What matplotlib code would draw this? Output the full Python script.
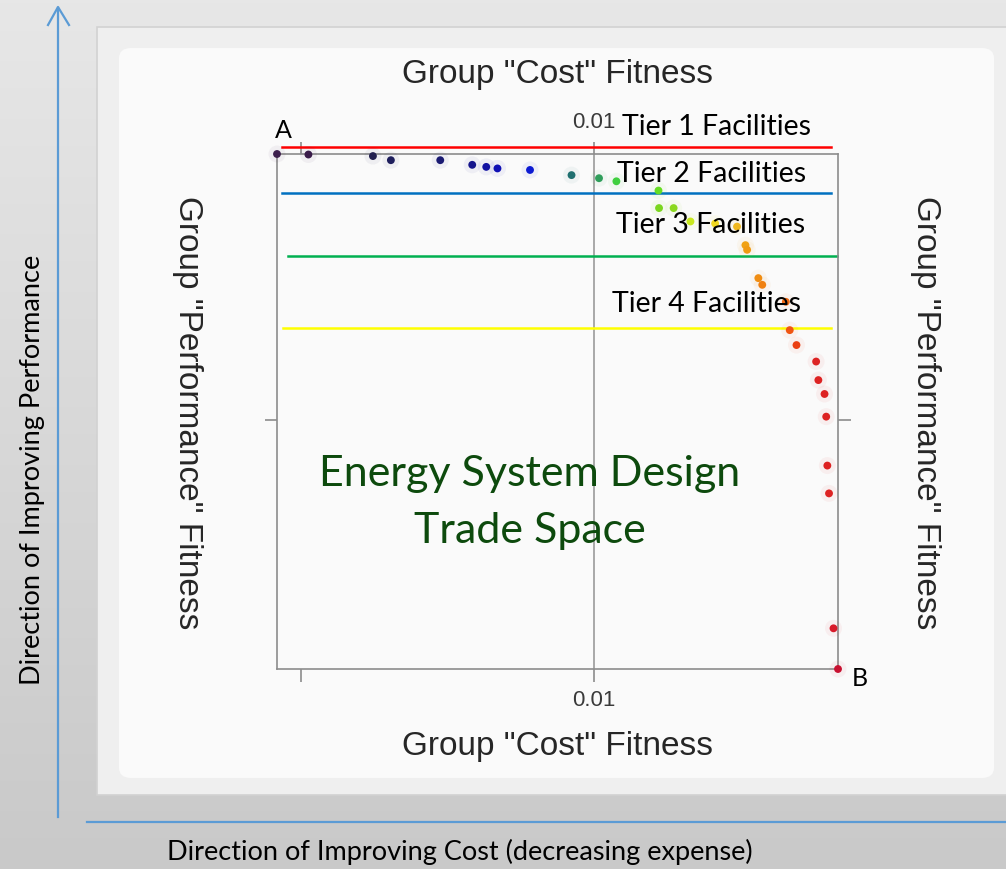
import numpy as np
import matplotlib.pyplot as plt
from matplotlib.patches import Rectangle, FancyBboxPatch
from matplotlib.lines import Line2D
from matplotlib.colors import LinearSegmentedColormap

# normalised fitness values (0..1 over the plotted range)
cost_fit = [0.000, 0.056, 0.171, 0.203, 0.291, 0.348, 0.373, 0.393, 0.451, 0.525,
            0.574, 0.605, 0.680, 0.681, 0.707, 0.737, 0.781, 0.820, 0.835, 0.838,
            0.858, 0.865, 0.907, 0.914, 0.926, 0.961, 0.965, 0.976, 0.979, 0.981,
            0.984, 0.992, 1.000]
perf_fit = [1.000, 0.999, 0.996, 0.988, 0.988, 0.979, 0.975, 0.972, 0.969, 0.959,
            0.953, 0.947, 0.929, 0.895, 0.895, 0.869, 0.865, 0.859, 0.823, 0.814,
            0.759, 0.746, 0.713, 0.658, 0.629, 0.597, 0.561, 0.534, 0.490, 0.395,
            0.341, 0.079, 0.000]
point_colors = ['#3d1f4d', '#3a1c4a', '#22204f', '#1e1e5c', '#1a1a72', '#15158c',
                '#1212a2', '#1010b4', '#0c1ad2', '#1f6f6f', '#2e9e5a', '#3fcf3f',
                '#66dd22', '#7ad61e', '#8ad81e', '#c8e81e', '#f0d820', '#f0b820',
                '#f0a214', '#f09a12', '#f08c10', '#f08010', '#f06a12', '#f05512',
                '#ea4014', '#dd2222', '#dd2222', '#dd2222', '#dd2222', '#dd2222',
                '#dd2222', '#d81a2a', '#c81030']

tier_labels = ['Tier 1 Facilities', 'Tier 2 Facilities', 'Tier 3 Facilities', 'Tier 4 Facilities']
tier_levels = [1.014, 0.924, 0.801, 0.662]
tier_colors = ['#ff0000', '#0070c0', '#00b050', '#ffff00']

x_ticks = [0.043, 0.565]
x_ticklabels = ['', '0.01']
y_ticks = [0.4835]

W, H = 1006, 869


def px(x, y):
    return x / W, 1 - y / H


fig = plt.figure(figsize=(W / 100, H / 100), dpi=100)

# background gradient
bg = fig.add_axes([0, 0, 1, 1], zorder=-10)
grad = np.linspace(0, 1, 256).reshape(-1, 1)
cm = LinearSegmentedColormap.from_list('bg', ['#e7e7e7', '#c9c9c9'])
bg.imshow(grad, aspect='auto', cmap=cm, extent=[0, 1, 0, 1], origin='upper')
bg.set_xlim(0, 1)
bg.set_ylim(0, 1)
bg.axis('off')

# grey panel + white inner card
bg.add_patch(Rectangle(px(97, 795), (W - 97) / W + 0.01, (795 - 27) / H,
                       facecolor='#efefef', edgecolor='#d2d2d2', lw=1.2))
bg.add_patch(FancyBboxPatch(px(127, 771), (986 - 127) / W, (771 - 55) / H,
                            boxstyle='round,pad=0.008,rounding_size=0.012',
                            facecolor='#fafafa', edgecolor='none'))

# direction arrows
blue = '#5b9bd5'
fig.add_artist(Line2D([58 / W, 58 / W], [1 - 817 / H, 1 - 8 / H], color=blue, lw=1.6))
fig.add_artist(Line2D([48 / W, 58 / W, 69 / W], [1 - 25 / H, 1 - 7 / H, 1 - 25 / H],
                      color=blue, lw=1.6))
fig.add_artist(Line2D([87 / W, 1.0], [1 - 822 / H, 1 - 822 / H], color=blue, lw=1.6))

# main plot
ax = fig.add_axes([277 / W, 1 - 669 / H, (838 - 277) / W, (669 - 154) / H])
ax.set_facecolor('none')
ax.set_xlim(0, 1)
ax.set_ylim(0, 1)
for s in ax.spines.values():
    s.set_color('#8c8c8c')
    s.set_linewidth(1.2)
ax.axvline(0.565, color='#9a9a9a', lw=1.2, zorder=1)
ax.set_xticks(x_ticks)
ax.set_xticklabels(x_ticklabels, family=['Liberation Sans', 'DejaVu Sans'])
ax.set_yticks(y_ticks)
ax.set_yticklabels([''])
ax.tick_params(axis='both', direction='out', length=9, width=1.2, color='#8c8c8c',
               labelsize=16, labelcolor='#3a3a3a', pad=6,
               top=True, right=True, labeltop=True)

ax.scatter(cost_fit, perf_fit, s=150, c=point_colors, alpha=0.05, linewidths=0,
           zorder=3, clip_on=False)
ax.scatter(cost_fit, perf_fit, s=32, c=point_colors, linewidths=0, zorder=4, clip_on=False)

tier_x = [(0.009, 0.9875), (0.009, 0.9875), (0.0196, 0.998), (0.011, 0.9875)]
for lvl, col, (x0, x1) in zip(tier_levels, tier_colors, tier_x):
    ax.plot([x0, x1], [lvl, lvl], color=col, lw=1.8, clip_on=False, zorder=2)

calibri = ['Lato', 'DejaVu Sans']
arial = ['Liberation Sans', 'DejaVu Sans']
tier_pos = [(716, 127), (712, 174), (711, 225), (707, 304)]
for t, (x, y) in zip(tier_labels, tier_pos):
    fig.text(*px(x, y), t, ha='center', va='center', fontsize=20.5, family=calibri,
             color='black', zorder=10)

fig.text(*px(283, 130), 'A', ha='center', va='center', fontsize=18, family=calibri)
fig.text(*px(860, 679), 'B', ha='center', va='center', fontsize=18, family=calibri)

fig.text(*px(530, 474), 'Energy System Design', ha='center', va='center',
         fontsize=31, family=calibri, color='#0d4a0d')
fig.text(*px(530, 531), 'Trade Space', ha='center', va='center',
         fontsize=31, family=calibri, color='#0d4a0d')

gray_txt = '#262626'
fig.text(*px(557, 75), 'Group "Cost" Fitness', ha='center', va='center',
         fontsize=24, family=arial, color=gray_txt)
fig.text(*px(557, 746), 'Group "Cost" Fitness', ha='center', va='center',
         fontsize=24, family=arial, color=gray_txt)
fig.text(*px(187, 413), 'Group "Performance" Fitness', ha='center', va='center',
         rotation=-90, fontsize=24, family=arial, color=gray_txt)
fig.text(*px(925, 413), 'Group "Performance" Fitness', ha='center', va='center',
         rotation=-90, fontsize=24, family=arial, color=gray_txt)

fig.text(*px(33, 470), 'Direction of Improving Performance', ha='center', va='center',
         rotation=90, fontsize=19.5, family=calibri, color='black')
fig.text(*px(460, 852), 'Direction of Improving Cost (decreasing expense)',
         ha='center', va='center', fontsize=19.5, family=calibri, color='black')

fig.savefig('out.png', dpi=100)
